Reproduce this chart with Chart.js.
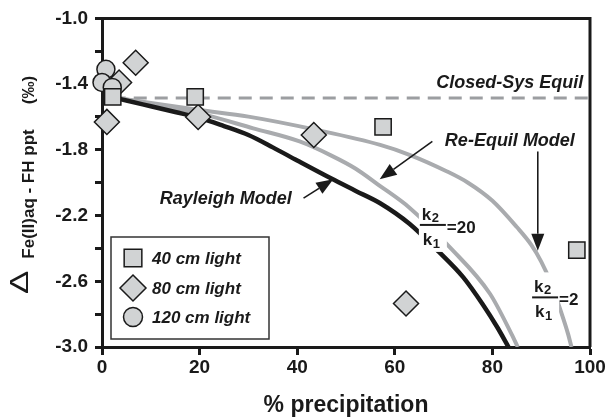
<!DOCTYPE html>
<html>
<head>
<meta charset="utf-8">
<script src="https://cdn.jsdelivr.net/npm/chart.js@4.4.0/dist/chart.umd.min.js"></script>
<style>
  html, body { margin: 0; padding: 0; background: #fff; }
  canvas { display: block; }
</style>
</head>
<body>
<canvas id="chart" width="609" height="419"></canvas>
<script>
// measured samples (x = % precipitation, y = delta in permil)
const sq40X = [2.2, 19.1, 57.6, 97.3];
const sq40Y = [-1.477, -1.477, -1.66, -2.41];
const dia80X = [1.0, 3.5, 6.9, 19.7, 43.4, 62.3];
const dia80Y = [-1.63, -1.39, -1.27, -1.60, -1.71, -2.735];
const circ120X = [0.8, 0.0, 2.1];
const circ120Y = [-1.31, -1.39, -1.42];

// model curves
const rayleighX = [2.2, 5, 10, 15, 20, 25, 30, 35, 40, 47, 52, 57, 63, 69, 74, 78, 81, 83.3];
const rayleighY = [-1.48, -1.50, -1.535, -1.57, -1.605, -1.655, -1.71, -1.785, -1.865, -1.975, -2.05, -2.125, -2.25, -2.42, -2.575, -2.74, -2.88, -3.0];
const k20X = [2.2, 10, 20, 31, 40.5, 47, 52, 56.5, 63, 71.3, 79.5, 83.9, 85.2];
const k20Y = [-1.48, -1.52, -1.578, -1.669, -1.749, -1.835, -1.915, -2.01, -2.152, -2.394, -2.676, -2.92, -3.0];
const k2X = [2.2, 10, 20, 30, 44, 57, 63, 70.6, 75, 80, 85, 88, 90, 92, 94, 95.5, 96.2];
const k2Y = [-1.48, -1.515, -1.558, -1.598, -1.679, -1.77, -1.83, -1.93, -2.00, -2.11, -2.27, -2.38, -2.48, -2.61, -2.78, -2.92, -3.0];
const equilX = [2.2, 100];
const equilY = [-1.485, -1.485];

const xTicks = [0, 20, 40, 60, 80, 100];
const yTickLabels = ['-3.0', '-2.6', '-2.2', '-1.8', '-1.4', '-1.0'];

const ink = '#1a1a1a';
const markFill = '#d1d3d4';
const lineGray = '#a9abae';
const FONT = '"Liberation Sans", Arial, sans-serif';

const pts = (xs, ys) => xs.map((v, i) => ({ x: v, y: ys[i] }));

Chart.defaults.font.family = FONT;
Chart.defaults.color = ink;

function arrow(ctx, x1, y1, x2, y2) {
    const ang = Math.atan2(y2 - y1, x2 - x1);
    const len = 17, half = 6.5;
    const bx = x2 - Math.cos(ang) * len, by = y2 - Math.sin(ang) * len;
    ctx.beginPath();
    ctx.moveTo(x1, y1);
    ctx.lineTo(bx, by);
    ctx.lineWidth = 1.6;
    ctx.strokeStyle = ink;
    ctx.stroke();
    ctx.beginPath();
    ctx.moveTo(x2, y2);
    ctx.lineTo(bx + Math.sin(ang) * half, by - Math.cos(ang) * half);
    ctx.lineTo(bx - Math.sin(ang) * half, by + Math.cos(ang) * half);
    ctx.closePath();
    ctx.fillStyle = ink;
    ctx.fill();
}

// k2/k1 fraction with a white patch so the curves break behind it
function fraction(ctx, cx, cy, rhs) {
    ctx.fillStyle = '#fff';
    ctx.fillRect(cx - 14, cy - 25, 28, 52);
    ctx.fillStyle = ink;
    ctx.textAlign = 'left';
    ctx.textBaseline = 'alphabetic';
    ctx.font = 'bold 17px ' + FONT;
    ctx.fillText('k', cx - 11, cy - 5);
    ctx.fillText('k', cx - 10, cy + 20);
    ctx.font = 'bold 13px ' + FONT;
    ctx.fillText('2', cx - 1, cy - 3);
    ctx.fillText('1', cx, cy + 23);
    ctx.beginPath();
    ctx.moveTo(cx - 13, cy);
    ctx.lineTo(cx + 13, cy);
    ctx.lineWidth = 2;
    ctx.strokeStyle = ink;
    ctx.stroke();
    ctx.font = 'bold 17px ' + FONT;
    ctx.fillText(rhs, cx + 14, cy + 8);
}

function marker(ctx, style, x, y, r) {
    ctx.beginPath();
    if (style === 'rect') {
        const s = Math.SQRT1_2 * r;
        ctx.rect(x - s, y - s, 2 * s, 2 * s);
    } else if (style === 'rectRot') {
        ctx.moveTo(x - r, y); ctx.lineTo(x, y - r); ctx.lineTo(x + r, y); ctx.lineTo(x, y + r); ctx.closePath();
    } else {
        ctx.arc(x, y, r, 0, Math.PI * 2);
    }
    ctx.fillStyle = markFill;
    ctx.fill();
    ctx.lineWidth = 1.5;
    ctx.strokeStyle = ink;
    ctx.stroke();
}

const annotate = {
    id: 'annotate',
    afterDatasetsDraw(chart) {
        const { ctx, scales: { x, y } } = chart;
        const px = v => x.getPixelForValue(v), py = v => y.getPixelForValue(v);
        ctx.save();
        ctx.fillStyle = ink;
        ctx.textBaseline = 'alphabetic';
        ctx.font = 'italic bold 18px ' + FONT;
        ctx.textAlign = 'right';
        ctx.fillText('Closed-Sys Equil', px(98.6), py(-1.423));
        ctx.fillText('Re-Equil Model', px(96.9), py(-1.779));
        ctx.fillText('Rayleigh Model', px(38.9), py(-2.13));

        arrow(ctx, px(41.3), py(-2.094), px(47.4), py(-1.979));
        arrow(ctx, px(67.7), py(-1.749), px(56.9), py(-1.979));
        arrow(ctx, px(89.3), py(-1.81), px(89.3), py(-2.414));

        fraction(ctx, px(67.8), py(-2.257), '=20');
        fraction(ctx, px(90.8), py(-2.698), '=2');
        ctx.restore();
    },
    afterDraw(chart) {
        const { ctx, chartArea: a } = chart;
        ctx.save();
        // top and right frame
        ctx.beginPath();
        ctx.moveTo(a.left, a.top);
        ctx.lineTo(a.right, a.top);
        ctx.lineTo(a.right, a.bottom);
        ctx.lineWidth = 3;
        ctx.strokeStyle = ink;
        ctx.stroke();

        // y axis title, rotated
        ctx.fillStyle = ink;
        ctx.textBaseline = 'alphabetic';
        ctx.save();
        ctx.translate(28, 294);
        ctx.rotate(-Math.PI / 2);
        ctx.scale(1.4, 1);
        ctx.textAlign = 'left';
        ctx.font = '25px ' + FONT;
        ctx.fillText('\u0394', 0, 0);
        ctx.restore();
        ctx.save();
        ctx.translate(34, 194);
        ctx.rotate(-Math.PI / 2);
        ctx.textAlign = 'center';
        ctx.font = 'bold 17px ' + FONT;
        ctx.fillText('Fe(II)aq - FH ppt', 0, 0);
        ctx.font = 'bold 17px ' + FONT;
        ctx.fillText('(\u2030)', 104, 0);
        ctx.restore();

        // legend box
        const lx = a.left + 9, ly = a.bottom - 110, lw = 158, lh = 102;
        ctx.fillStyle = '#fff';
        ctx.fillRect(lx, ly, lw, lh);
        ctx.lineWidth = 1.5;
        ctx.strokeStyle = '#333';
        ctx.strokeRect(lx, ly, lw, lh);
        const items = [['rect', 12.5, '40 cm light', 21], ['rectRot', 13, '80 cm light', 51], ['circle', 9.5, '120 cm light', 80]];
        items.forEach(([st, r, label, dy]) => {
            marker(ctx, st, lx + 22, ly + dy, r);
            ctx.fillStyle = ink;
            ctx.font = 'italic bold 17px ' + FONT;
            ctx.textAlign = 'left';
            ctx.fillText(label, lx + 41, ly + dy + 6);
        });
        ctx.restore();
    }
};

new Chart(document.getElementById('chart'), {
    type: 'scatter',
    data: {
        datasets: [
            { label: '40 cm light', data: pts(sq40X, sq40Y), pointStyle: 'rect', pointRadius: 11.5, backgroundColor: markFill, borderColor: ink, borderWidth: 1.5, clip: false, order: 1 },
            { label: '120 cm light', data: pts(circ120X, circ120Y), pointStyle: 'circle', pointRadius: 9, backgroundColor: markFill, borderColor: ink, borderWidth: 1.5, clip: false, order: 2 },
            { label: '80 cm light', data: pts(dia80X, dia80Y), pointStyle: 'rectRot', pointRadius: 12.5, backgroundColor: markFill, borderColor: ink, borderWidth: 1.5, clip: false, order: 3 },
            { label: 'Rayleigh', data: pts(rayleighX, rayleighY), showLine: true, pointRadius: 0, borderColor: ink, borderWidth: 4.5, cubicInterpolationMode: 'monotone', order: 4 },
            { label: 'k2/k1=20', data: pts(k20X, k20Y), showLine: true, pointRadius: 0, borderColor: lineGray, borderWidth: 4, cubicInterpolationMode: 'monotone', order: 5 },
            { label: 'k2/k1=2', data: pts(k2X, k2Y), showLine: true, pointRadius: 0, borderColor: lineGray, borderWidth: 4, cubicInterpolationMode: 'monotone', order: 6 },
            { label: 'Closed-Sys Equil', data: pts(equilX, equilY), showLine: true, pointRadius: 0, borderColor: '#9c9ea1', borderWidth: 3, borderDash: [13, 8], order: 7 }
        ]
    },
    options: {
        responsive: false,
        animation: false,
        layout: { padding: { top: 16, right: 19, left: 0, bottom: 0 } },
        plugins: { legend: { display: false }, tooltip: { enabled: false } },
        scales: {
            x: {
                type: 'linear', min: 0, max: 100,
                afterBuildTicks: s => { s.ticks = xTicks.map(v => ({ value: v })); },
                ticks: { font: { size: 19, weight: 'bold' }, color: ink, padding: 1, maxRotation: 0 },
                grid: { drawOnChartArea: false, tickLength: 8, tickWidth: 3, color: ink },
                border: { width: 3, color: ink },
                title: { display: true, text: '% precipitation', font: { size: 23, weight: 'bold' }, color: ink, padding: 0 },
                afterFit: s => { s.height = 72; }
            },
            y: {
                type: 'linear', min: -3, max: -1,
                ticks: {
                    stepSize: 0.2, font: { size: 19, weight: 'bold' }, color: ink, padding: 7,
                    callback: (v, i) => (i % 2 === 0 ? yTickLabels[i / 2] : '')
                },
                grid: { drawOnChartArea: false, tickLength: 7, tickWidth: 3, color: ink },
                border: { width: 3, color: ink },
                afterFit: s => { s.width = 102; }
            }
        }
    },
    plugins: [annotate]
});
</script>
</body>
</html>
